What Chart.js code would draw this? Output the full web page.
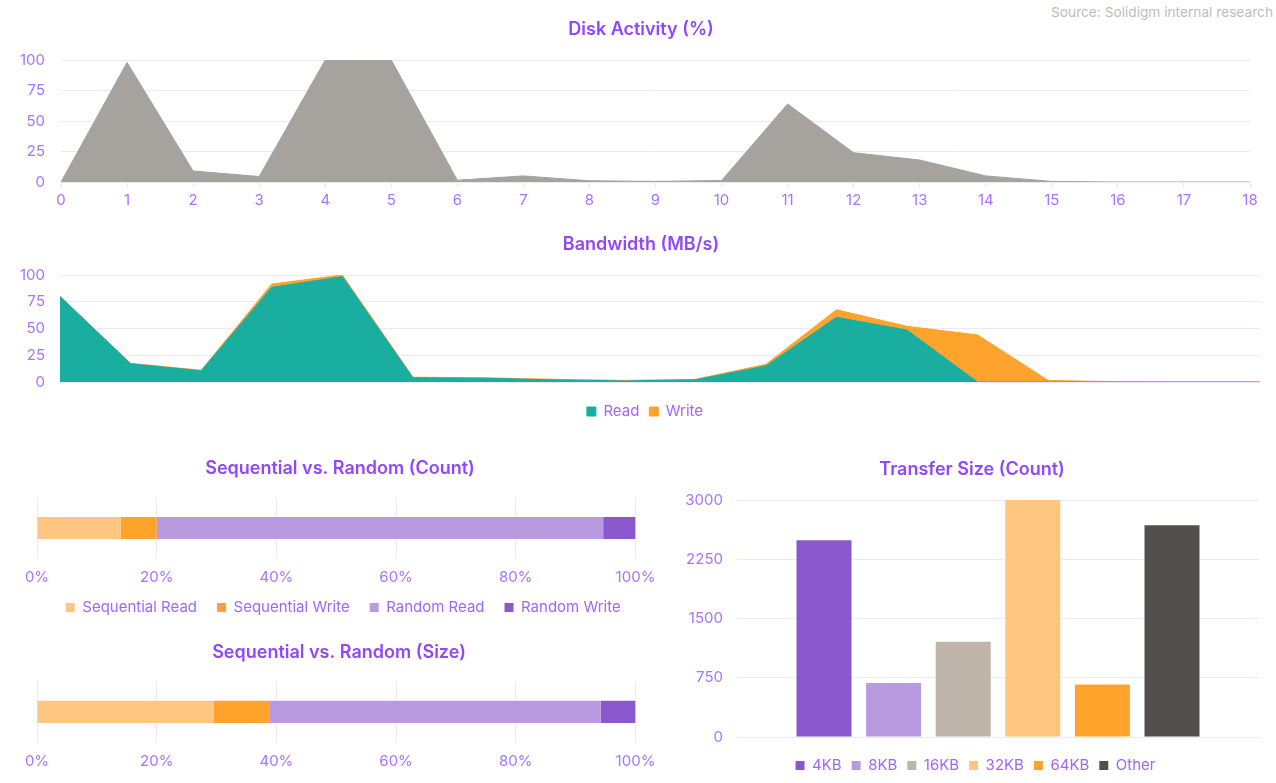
<!DOCTYPE html>
<html><head><meta charset="utf-8">
<script src="https://cdn.jsdelivr.net/npm/chart.js@4/dist/chart.umd.min.js"></script>
<style>
html,body{margin:0;padding:0;background:#fff;width:1276px;height:783px;overflow:hidden;font-family:Inter,sans-serif}
.box{position:absolute}
canvas{display:block}
#src{position:absolute;right:3px;top:4px;font:13.7px Inter,sans-serif;color:#bdbdbd;line-height:17px}
</style></head><body>
<div id="src">Source: Solidigm internal research</div>
<div class="box" style="left:0;top:0"><canvas id="c1" width="1276" height="210"></canvas></div>
<div class="box" style="left:0;top:215px"><canvas id="c2" width="1276" height="214"></canvas></div>
<div class="box" style="left:0;top:440px"><canvas id="c3" width="660" height="195"></canvas></div>
<div class="box" style="left:0;top:625px"><canvas id="c4" width="660" height="158"></canvas></div>
<div class="box" style="left:660px;top:440px"><canvas id="c5" width="616" height="343"></canvas></div>
<script>
// ---- data ----
const diskLabels = ['0','1','2','3','4','5','6','7','8','9','10','11','12','13','14','15','16','17','18'];
const diskActivity = [0,98,9,4.5,100,100,1.5,5,1,0.5,1.2,64,24,18,5,0.5,0,0,0];

const bwLabels = ['0','1','2','3','4','5','6','7','8','9','10','11','12','13','14','15','16','17'];
const bwRead  = [80,17,10.5,88.5,98.5,4,3.5,2,1,2,15,60.5,48.5,0,0,0,0,0];
const bwWrite = [0,0.5,0.5,3,1.5,0.5,0.5,0.5,0.5,0.5,1.5,7,3.5,44,1.5,0.2,0,0];

const seqSeries = ['Sequential Read','Sequential Write','Random Read','Random Write'];
const seqCount = [14,6,74.6,5.4];
const seqSize  = [29.5,9.4,55.3,5.8];

const xferLabels = ['4KB','8KB','16KB','32KB','64KB','Other'];
const xferCount = [2490,683,1205,3000,665,2680];

const pctStep = 20;

// ---- styles ----
const FONT = 'Inter, sans-serif';
const TITLE_C = '#9146ff';
const TICK_C = '#a873ff';
const GRID_C = '#eee6fd';
const seqColors = ['#fec681','#ffa32b','#b99ae0','#8a58cc'];
const xferColors = ['#8a58cc','#b99ae0','#c0b5aa','#fec681','#ffa32b','#52504e'];
Chart.defaults.font.family = FONT;
Chart.defaults.animation = false;

// positions title / legend blocks horizontally (and legend vertically)
const placePlugin = {
  id:'place',
  afterLayout(chart, args, opts){
    const tb = chart.titleBlock;
    if (tb && opts.titleX != null){ const w = tb.right - tb.left; tb.left = opts.titleX - w/2; tb.right = opts.titleX + w/2; }
    const lg = chart.legend;
    if (lg && opts.legendDx){ lg.left += opts.legendDx; lg.right += opts.legendDx; }
    if (lg && opts.legendDy){ lg.top += opts.legendDy; lg.bottom += opts.legendDy; }
  }
};

function titleOpt(text, top, bottom){
  return {display:true,text,color:TITLE_C,font:{size:18,weight:'600',family:FONT},padding:{top,bottom}};
}
function legendOpt(pad){
  return {display:true,position:'bottom',labels:{color:'#a066ff',font:{size:15,family:FONT},boxWidth:9,boxHeight:9,padding:pad}};
}
const tickFont = {size:15,family:FONT};

// Chart 1: Disk activity
new Chart(document.getElementById('c1'),{
  type:'line',
  data:{labels:diskLabels,datasets:[{label:'Disk Activity',data:diskActivity,fill:'origin',
    backgroundColor:'#a6a29d',borderColor:'#a6a29d',borderWidth:1,pointRadius:0,tension:0}]},
  plugins:[placePlugin],
  options:{responsive:false,animation:false,
    layout:{padding:{left:0,right:26,top:0,bottom:0}},
    plugins:{legend:{display:false},title:titleOpt('Disk Activity (%)',19.2,19.2),tooltip:{enabled:false},place:{titleX:641}},
    scales:{
      x:{grid:{display:true,drawOnChartArea:false,drawTicks:true,tickLength:6,color:GRID_C},border:{color:GRID_C},
        ticks:{color:TICK_C,font:tickFont,padding:3,maxRotation:0,autoSkip:false},afterFit:s=>{s.height=28;}},
      y:{min:0,max:100,ticks:{stepSize:25,color:TICK_C,font:tickFont,padding:16},
        grid:{color:GRID_C,drawTicks:false},border:{display:false},afterFit:s=>{s.width=61;}}
    }}
});

// Chart 2: Bandwidth
new Chart(document.getElementById('c2'),{
  type:'line',
  data:{labels:bwLabels,datasets:[
    {label:'Read',data:bwRead,fill:'origin',backgroundColor:'#19ae9f',borderColor:'#19ae9f',borderWidth:1,pointRadius:0,tension:0},
    {label:'Write',data:bwWrite,fill:'-1',backgroundColor:'#fea42d',borderColor:'#fea42d',borderWidth:1,pointRadius:0,tension:0}
  ]},
  plugins:[placePlugin],
  options:{responsive:false,animation:false,
    layout:{padding:{left:0,right:16,top:0,bottom:0}},
    plugins:{legend:legendOpt(10),title:titleOpt('Bandwidth (MB/s)',19.2,19.2),tooltip:{enabled:false},place:{titleX:641,legendDx:15}},
    scales:{
      x:{display:true,ticks:{display:false},grid:{display:false},border:{display:false},afterFit:s=>{s.height=12;}},
      y:{stacked:true,min:0,max:100,ticks:{stepSize:25,color:TICK_C,font:tickFont,padding:15},
        grid:{color:GRID_C,drawTicks:false},border:{display:false},afterFit:s=>{s.width=60;}}
    }}
});

function seqChart(id, values, title, tTop, tBottom, showLegend, xHeight, titleX){
  new Chart(document.getElementById(id),{
    type:'bar',
    data:{labels:[''],datasets:seqSeries.map((name,i)=>({label:name,data:[values[i]],backgroundColor:seqColors[i],borderWidth:0,
      categoryPercentage:1,barPercentage:0.367}))},
    plugins:[placePlugin],
    options:{responsive:false,animation:false,indexAxis:'y',
      layout:{padding:{left:37,right:24.5,top:0,bottom:0}},
      plugins:{legend:showLegend?legendOpt(20):{display:false},title:titleOpt(title,tTop,tBottom),tooltip:{enabled:false},
        place:{titleX:titleX,legendDy:-10,legendDx:7}},
      scales:{
        x:{stacked:true,min:0,max:100,
          ticks:{stepSize:pctStep,color:TICK_C,font:tickFont,padding:10,callback:v=>v+'%'},
          grid:{color:GRID_C,drawTicks:false},border:{display:false},
          afterFit:s=>{s.height=xHeight;s.paddingLeft=0;s.paddingRight=0;}},
        y:{stacked:true,display:false}
      }}
  });
}
seqChart('c3', seqCount, 'Sequential vs. Random (Count)', 18.2, 18.2, true, 32, 340);
seqChart('c4', seqSize, 'Sequential vs. Random (Size)', 17.2, 17.9, false, 41, 339);

// Chart 5: Transfer size
new Chart(document.getElementById('c5'),{
  type:'bar',
  data:{labels:[''],datasets:xferLabels.map((name,i)=>({label:name,data:[xferCount[i]],backgroundColor:xferColors[i],borderWidth:0,
    categoryPercentage:0.8,barPercentage:0.79}))},
  plugins:[placePlugin],
  options:{responsive:false,animation:false,
    layout:{padding:{left:26,right:17,top:0,bottom:0}},
    plugins:{legend:legendOpt(10),title:titleOpt('Transfer Size (Count)',19.2,19.2),tooltip:{enabled:false},place:{titleX:312,legendDx:3}},
    scales:{
      x:{display:true,ticks:{display:false},grid:{display:false},border:{display:false},afterFit:s=>{s.height=11;}},
      y:{min:0,max:3000,ticks:{stepSize:750,color:TICK_C,font:tickFont,padding:14,callback:v=>String(v)},
        grid:{color:GRID_C,drawTicks:false},border:{display:false},afterFit:s=>{s.width=51;}}
    }}
});
</script>
</body></html>
